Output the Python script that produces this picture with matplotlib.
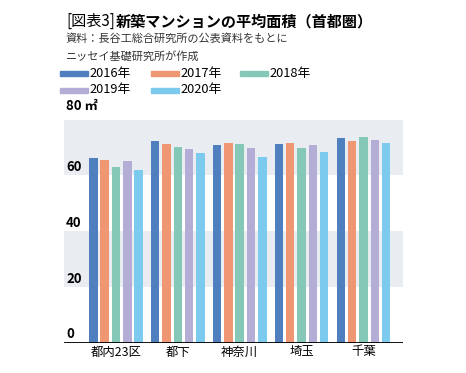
import matplotlib
matplotlib.use("Agg")
import matplotlib.pyplot as plt
import numpy as np

plt.rcParams['font.family'] = ['Noto Sans CJK JP', 'DejaVu Sans']

categories = ["都内23区", "都下", "神奈川", "埼玉", "千葉"]
years = ["2016年", "2017年", "2018年", "2019年", "2020年"]
values = {
    "2016年": [66.2, 72.2, 70.9, 71.4, 73.2],
    "2017年": [65.6, 71.4, 71.7, 71.7, 72.2],
    "2018年": [62.9, 70.3, 71.4, 69.9, 73.7],
    "2019年": [65.3, 69.5, 69.9, 70.9, 72.7],
    "2020年": [62.0, 68.0, 66.7, 68.5, 71.7],
}
yticks = [0, 20, 40, 60]
colors = ["#4f7fbf", "#ef9673", "#85c8b8", "#b4aed6", "#7ccbee"]

fig = plt.figure(figsize=(4.66, 3.73), dpi=100)
ax = fig.add_axes([0.1373, 0.0812, 0.7269, 0.5984])

x = np.arange(len(categories))
pitch = 0.183
width = 0.137
for i, y in enumerate(years):
    ax.bar(x + (i - 2) * pitch, values[y], width=width, color=colors[i], zorder=3)

ax.set_xlim(-0.84, 4.635)
ax.set_ylim(0, 80)
for lo, hi in [(20, 40), (60, 80)]:
    ax.axhspan(lo, hi, color="#e9ecf0", zorder=0, lw=0)
ax.axhline(0, color="black", lw=1.3, zorder=4)

for s in ax.spines.values():
    s.set_visible(False)
ax.set_yticks([])
ax.set_xticks(x)
ax.set_xticklabels(categories, fontsize=8.9)
ax.tick_params(axis="x", length=0, pad=2)

for t in yticks:
    ax.annotate(str(t), xy=(0, t), xycoords=("axes fraction", "data"),
                xytext=(1.5, 1.0), textcoords="offset points",
                ha="left", va="bottom", fontsize=9.5, fontweight="bold")
ax.annotate("80 ㎡", xy=(0, 80), xycoords=("axes fraction", "data"),
            xytext=(1.5, 5.0), textcoords="offset points",
            ha="left", va="bottom", fontsize=9.5, fontweight="bold")

# Title
H = 373.0
W = 466.0
t1 = fig.text(66 / W, 1 - 21.5 / H, "[図表3]", fontsize=10.9, va="center", ha="left")
fig.canvas.draw()
bb = t1.get_window_extent()
fig.text(bb.x1 / W + 0.002, 1 - 21.5 / H, "新築マンションの平均面積（首都圏）",
         fontsize=10.9, fontweight="bold", va="center", ha="left")
fig.text(66 / W, 1 - 38.5 / H, "資料：長谷工総合研究所の公表資料をもとに",
         fontsize=8.0, va="center", ha="left", color="#333333")
fig.text(66 / W, 1 - 56 / H, "ニッセイ基礎研究所が作成",
         fontsize=8.0, va="center", ha="left", color="#333333")

# Legend
leg_pos = [(60, 73), (151, 73), (240, 73), (60, 90), (151, 90)]
for i, y in enumerate(years):
    px, py = leg_pos[i]
    fig.patches.append(plt.Rectangle((px / W, 1 - (py + 2.5) / H), 28 / W, 4.5 / H,
                                     transform=fig.transFigure, color=colors[i]))
    fig.text((px + 29.5) / W, 1 - py / H, y, fontsize=9.2, va="center", ha="left")

fig.savefig("out.png", dpi=100)
